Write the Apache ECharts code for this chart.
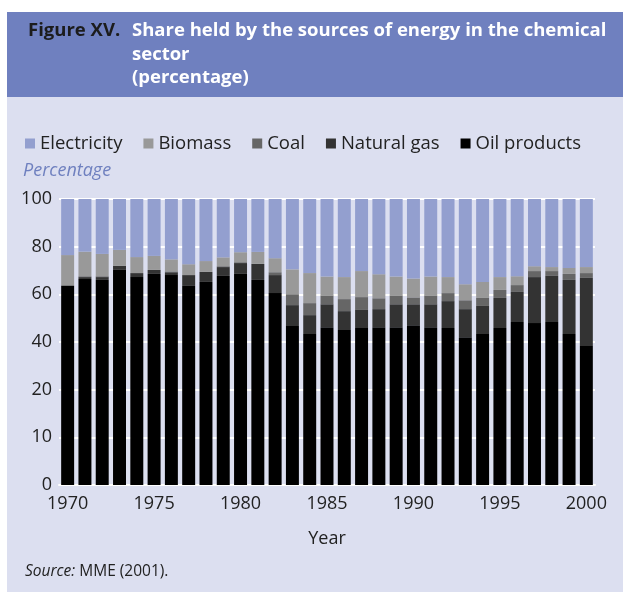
<!DOCTYPE html>
<html>
<head>
<meta charset="utf-8">
<script src="https://cdn.jsdelivr.net/npm/echarts@6/dist/echarts.min.js"></script>
<style>
  html, body { margin: 0; padding: 0; background: #ffffff; }
  #chart { width: 623px; height: 602px; }
</style>
</head>
<body>
<div id="chart"></div>
<script>
// years on the x axis
const years = [];
for (let y = 1970; y <= 2000; y++) years.push(String(y));

// shares (percent of total, stacked to 100)
const oilProducts = [69.6, 72.0, 71.7, 75.2, 72.7, 73.8, 73.4, 69.6, 71.0, 73.1, 73.8, 71.7, 67.1, 55.6, 52.8, 55.2, 54.2, 54.9, 55.2, 55.2, 55.9, 55.2, 54.9, 51.7, 52.8, 54.9, 57.0, 56.6, 57.0, 52.8, 48.6];
const naturalGas  = [0.0, 0.7, 1.0, 1.4, 1.4, 1.4, 1.0, 3.8, 3.5, 3.1, 3.8, 5.6, 6.3, 7.3, 6.6, 8.0, 6.6, 6.3, 6.3, 8.0, 7.3, 8.0, 9.4, 9.8, 9.8, 10.5, 10.5, 16.1, 16.1, 18.9, 23.8];
const coal        = [0.3, 0.3, 0.3, 0.0, 0.0, 0.0, 0.3, 0.0, 0.0, 0.3, 0.3, 0.0, 1.0, 3.8, 4.2, 3.1, 4.2, 4.5, 3.8, 3.1, 2.4, 3.1, 2.8, 3.1, 2.8, 2.8, 2.4, 2.1, 1.7, 2.1, 1.7];
const biomass     = [10.5, 8.6, 7.8, 5.6, 5.6, 4.9, 4.2, 3.8, 3.8, 3.1, 3.5, 4.2, 4.9, 8.7, 10.5, 6.6, 7.7, 9.1, 8.4, 6.6, 6.6, 6.6, 5.6, 5.6, 5.6, 4.5, 3.1, 1.7, 1.4, 2.1, 2.1];
const electricity = [19.6, 18.4, 19.2, 17.8, 20.3, 19.9, 21.1, 22.8, 21.7, 20.4, 18.6, 18.5, 20.7, 24.6, 25.9, 27.1, 27.3, 25.2, 26.3, 27.1, 27.8, 27.1, 27.3, 29.8, 29.0, 27.3, 27.0, 23.5, 23.8, 24.1, 23.8];

// tick labels as printed on the original (evenly spaced)
const yLabels = ['0', '10', '20', '40', '60', '80', '100'];

const FONT = '"Open Sans", sans-serif';
const chart = echarts.init(document.getElementById('chart'));

const bar = (name, data, color) => ({
    name: name,
    type: 'bar',
    stack: 'total',
    data: data,
    barCategoryGap: '25%',
    itemStyle: { color: color },
    emphasis: { disabled: true }
});

const option = {
    backgroundColor: '#ffffff',
    animation: false,
    textStyle: { fontFamily: FONT },
    graphic: [
        { type: 'rect', z: -10, shape: { x: 7, y: 97, width: 616, height: 495 }, style: { fill: '#dcdff0' } },
        { type: 'rect', z: -10, shape: { x: 7, y: 12, width: 616, height: 85 }, style: { fill: '#6f80bf' } },
        {
            type: 'text', left: 25, top: 564,
            style: {
                text: '{i|Source:} MME (2001).',
                font: '15.5px ' + FONT,
                fill: '#222222',
                rich: { i: { fontStyle: 'italic', fontSize: 15.5, fontFamily: FONT, fill: '#222222' } }
            }
        },
        {
            type: 'text', left: 23, top: 162,
            style: { text: 'Percentage', font: 'italic 18px ' + FONT, fill: '#6f80bf' }
        }
    ],
    title: [
        {
            text: 'Figure XV.',
            left: 28, top: 19, padding: 0,
            textStyle: { color: '#1c1c1c', fontSize: 18.5, fontWeight: 'bold', fontFamily: FONT, lineHeight: 23.5 }
        },
        {
            text: 'Share held by the sources of energy in the chemical\nsector\n(percentage)',
            left: 132, top: 19, padding: 0,
            textStyle: { color: '#ffffff', fontSize: 18.5, fontWeight: 'bold', fontFamily: FONT, lineHeight: 23.5 }
        }
    ],
    legend: {
        data: ['Electricity', 'Biomass', 'Coal', 'Natural gas', 'Oil products'],
        left: 20, top: 129,
        icon: 'rect',
        itemWidth: 10, itemHeight: 10,
        itemGap: 21,
        selectedMode: false,
        textStyle: { fontSize: 18.5, color: '#222222', fontFamily: FONT }
    },
    grid: { left: 59, right: 28, top: 199, bottom: 117, containLabel: false },
    xAxis: {
        type: 'category',
        data: years,
        name: 'Year',
        nameLocation: 'middle',
        nameGap: 45,
        nameTextStyle: { fontSize: 18, color: '#222222', fontFamily: FONT },
        axisLine: { show: true, lineStyle: { color: '#ffffff', width: 2 } },
        axisTick: { show: false },
        axisLabel: {
            interval: 4,
            margin: 10,
            fontSize: 18,
            color: '#222222',
            fontFamily: FONT
        }
    },
    yAxis: {
        type: 'value',
        min: 0,
        max: 100,
        interval: 100 / 6,
        axisLine: { show: false },
        axisTick: { show: false },
        splitLine: { show: true, lineStyle: { color: '#ffffff', width: 2 } },
        axisLabel: {
            margin: 7,
            fontSize: 18,
            color: '#222222',
            fontFamily: FONT,
            formatter: (v) => yLabels[Math.round(v * 6 / 100)]
        }
    },
    series: [
        bar('Oil products', oilProducts, '#000000'),
        bar('Natural gas', naturalGas, '#333333'),
        bar('Coal', coal, '#666666'),
        bar('Biomass', biomass, '#999999'),
        bar('Electricity', electricity, '#939fcf')
    ]
};

chart.setOption(option);
</script>
</body>
</html>
